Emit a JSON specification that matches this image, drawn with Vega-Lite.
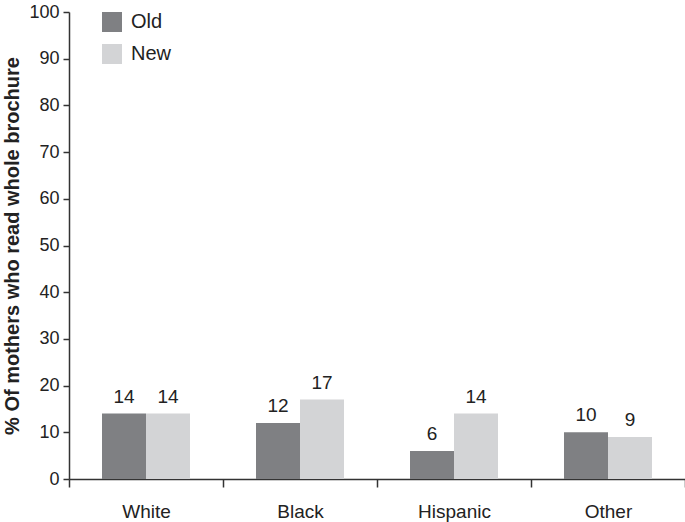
{
  "$schema": "https://vega.github.io/schema/vega-lite/v6.json",
  "width": 616,
  "height": 467,
  "autosize": "none",
  "padding": {"left": 69, "top": 12, "right": 0, "bottom": 43},
  "background": "white",
  "config": {"font": "Liberation Sans", "view": {"stroke": null}},
  "data": {"values": [
    {"group": "White", "series": "Old", "value": 14},
    {"group": "White", "series": "New", "value": 14},
    {"group": "Black", "series": "Old", "value": 12},
    {"group": "Black", "series": "New", "value": 17},
    {"group": "Hispanic", "series": "Old", "value": 6},
    {"group": "Hispanic", "series": "New", "value": 14},
    {"group": "Other", "series": "Old", "value": 10},
    {"group": "Other", "series": "New", "value": 9}
  ]},
  "encoding": {
    "x": {"field": "group", "type": "nominal", "sort": ["White", "Black", "Hispanic", "Other"],
      "scale": {"paddingInner": 0, "paddingOuter": 0},
      "axis": {"title": null, "labelAngle": 0, "labelFontSize": 19, "labelColor": "#222", "labelPadding": 15,
        "tickBand": "extent", "tickSize": 8, "tickColor": "#333", "domainColor": "#333", "domainWidth": 1.5, "tickWidth": 1.5}},
    "xOffset": {"field": "series", "type": "nominal", "sort": ["Old", "New"], "scale": {"paddingInner": 0, "paddingOuter": 0.75}},
    "y": {"field": "value", "type": "quantitative",
      "scale": {"domain": [0, 100], "nice": false},
      "axis": {"title": "% Of mothers who read whole brochure", "titleFontSize": 20, "titleFontWeight": "bold", "titleColor": "#222", "titlePadding": 6,
        "values": [0,10,20,30,40,50,60,70,80,90,100], "grid": false, "labelFontSize": 18, "labelColor": "#222",
        "tickSize": 6, "tickColor": "#333", "domainColor": "#333", "domainWidth": 1.5, "tickWidth": 1.5, "labelPadding": 4}}
  },
  "layer": [
    {"mark": {"type": "bar"},
      "encoding": {"color": {"field": "series", "type": "nominal",
        "scale": {"domain": ["Old", "New"], "range": ["#7f8083", "#d3d4d6"]},
        "legend": {"title": null, "orient": "none", "legendX": 33, "legendY": 0, "symbolType": "square", "symbolSize": 400,
          "symbolStrokeWidth": 0, "labelFontSize": 20, "labelColor": "#222", "rowPadding": 12, "labelOffset": 9}}}},
    {"mark": {"type": "text", "dy": -7, "fontSize": 19, "color": "#222", "baseline": "bottom"},
      "encoding": {"text": {"field": "value", "type": "quantitative"}}}
  ]
}
